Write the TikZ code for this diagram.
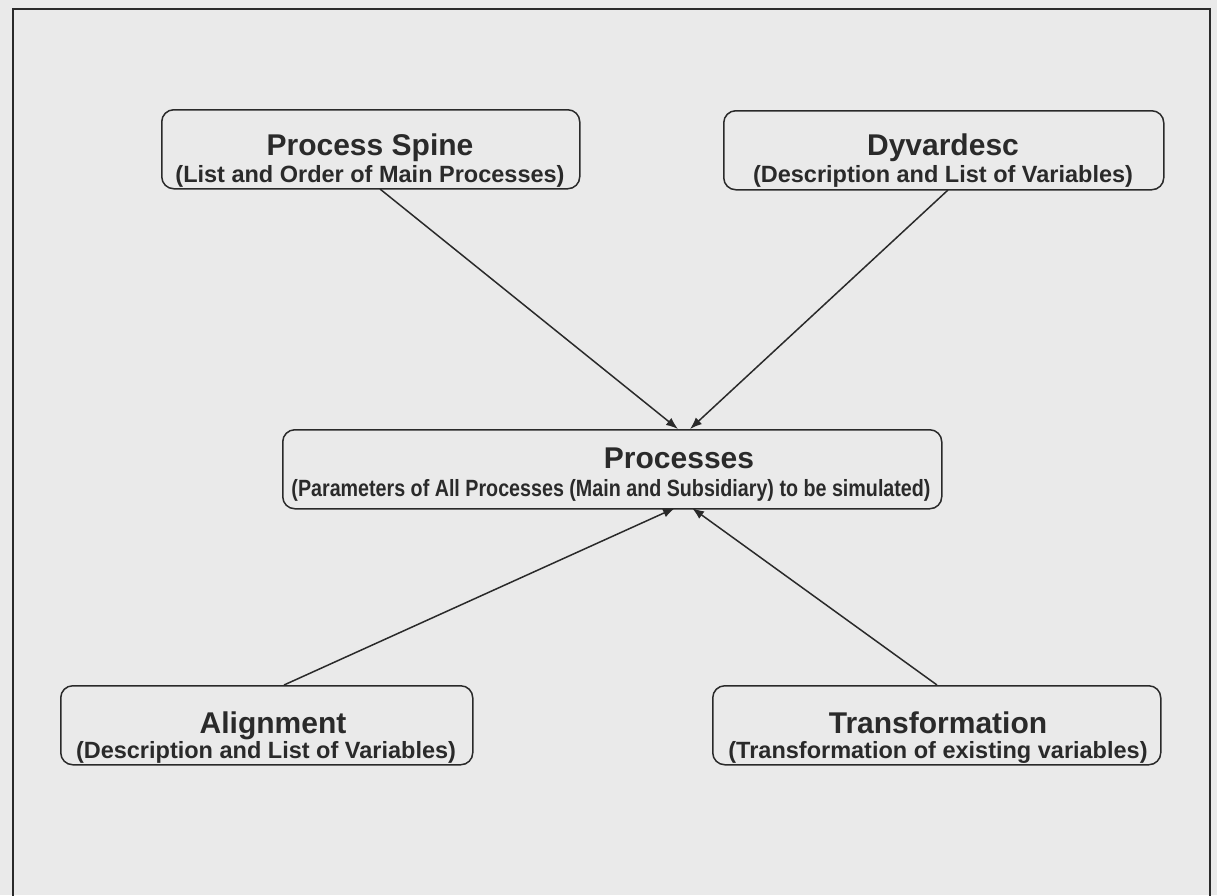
\documentclass[tikz,border=0pt]{standalone}
\usepackage{fontspec}
\setmainfont{Liberation Sans}
\usetikzlibrary{arrows.meta}
\definecolor{bg}{HTML}{EAEAEA}
\definecolor{ink}{HTML}{2A2A2A}
\begin{document}
\begin{tikzpicture}[x=1pt,y=-1pt,
  box/.style={draw=ink, line width=1.5pt, rounded corners=12pt, anchor=north west, inner sep=0pt, minimum height=79pt},
  ttl/.style={anchor=base, inner sep=0pt, text=ink, font=\fontsize{30}{32}\selectfont\bfseries},
  sub/.style={anchor=base, inner sep=0pt, text=ink, font=\fontsize{23.5}{25}\selectfont\bfseries},
  conn/.style={draw=ink, line width=1.5pt, -{Latex[length=12pt,width=9pt]}}]
\fill[bg] (0,0) rectangle (1217,895);
\useasboundingbox (0,0) rectangle (1217,895);
\draw[ink, line width=1.7pt] (13,900) -- (13,9) -- (1210,9) -- (1210,900);

% boxes
\node[box, minimum width=418pt] (ps) at (161,109) {};
\node[box, minimum width=440pt] (dy) at (723,110) {};
\node[box, minimum width=659pt] (pr) at (282,429) {};
\node[box, minimum width=412pt] (al) at (60,685) {};
\node[box, minimum width=448pt] (tr) at (712,685) {};

% texts
\node[ttl] (pst) at (370,155) {Process Spine};
\node[sub] (pss) at (370,182) {(List and Order of Main Processes)};
\node[ttl] (dyt) at (943,155) {Dyvardesc};
\node[sub] (dys) at (943,182) {(Description and List of Variables)};
\node[ttl] (prt) at (679,468) {Processes};
\node[sub] (prs) at (611,496) {\scalebox{0.838}[1]{(Parameters of All Processes (Main and Subsidiary) to be simulated)}};
\node[ttl] (alt) at (273,733) {Alignment};
\node[sub] (als) at (266,758) {(Description and List of Variables)};
\node[ttl] (trt) at (938,733) {Transformation};
\node[sub] (trs) at (938,758) {(Transformation of existing variables)};

% connector end points
\coordinate (psout) at (380,189);
\coordinate (dyout) at (948,190);
\coordinate (alout) at (284,685);
\coordinate (trout) at (937,685);
\coordinate (prin1) at (678,429);
\coordinate (prin2) at (690,429);
\coordinate (prin3) at (675,508);
\coordinate (prin4) at (692,508);

\draw[conn] (psout) -- (prin1);
\draw[conn] (dyout) -- (prin2);
\draw[conn] (alout) -- (prin3);
\draw[conn] (trout) -- (prin4);
\end{tikzpicture}
\end{document}
